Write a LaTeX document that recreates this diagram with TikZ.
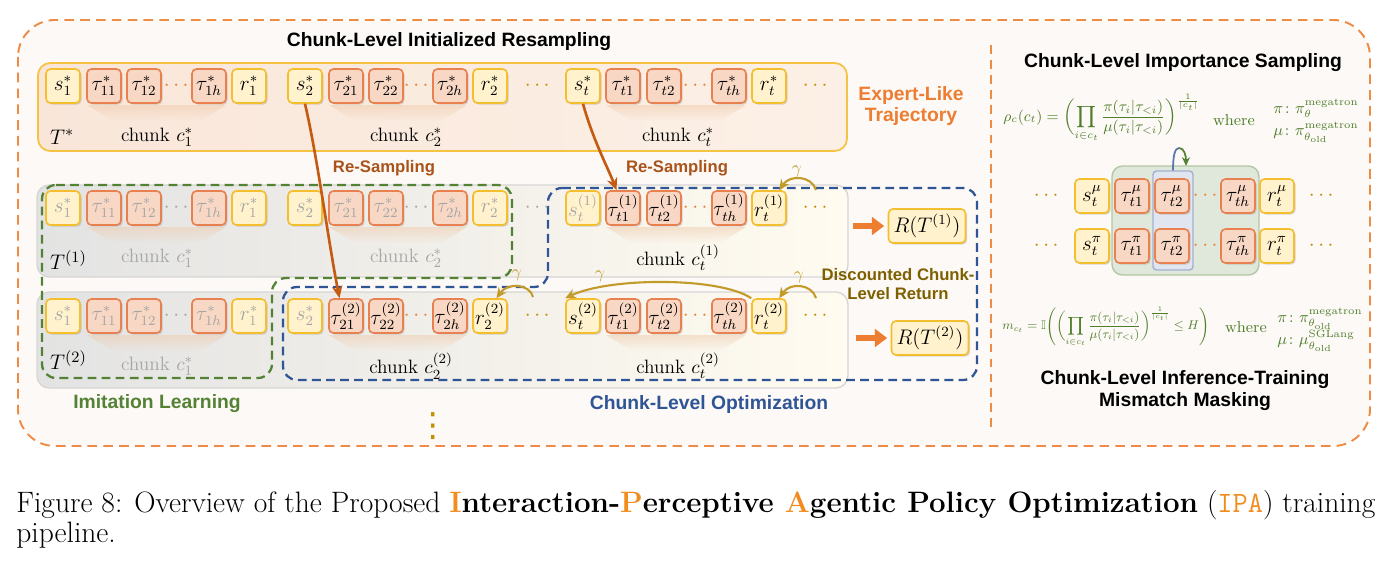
\documentclass[tikz,border=0pt]{standalone}
\usepackage{amsmath,amssymb}
\usepackage{fontspec}
\setsansfont{Liberation Sans}
\newfontfamily\symfont{DejaVu Sans}
\usepackage{xcolor}
\usepackage{tikz}
\usetikzlibrary{arrows.meta,shadows,fadings}
\definecolor{frameor}{HTML}{EE8B45}
\definecolor{framefill}{HTML}{FDF9F6}
\definecolor{sfill}{HTML}{FFF2CC}
\definecolor{sline}{HTML}{F4BE2E}
\definecolor{tfill}{HTML}{F8D8C4}
\definecolor{tline}{HTML}{E8804F}
\definecolor{dotor}{HTML}{ED7D31}
\definecolor{dotgold}{HTML}{BF9000}
\definecolor{dimtext}{HTML}{A6A6A6}
\definecolor{imgreen}{HTML}{548235}
\definecolor{optblue}{HTML}{2F5597}
\definecolor{resline}{HTML}{C55A11}
\definecolor{restext}{HTML}{A9531A}
\definecolor{gamline}{HTML}{C39B2B}
\definecolor{disctext}{HTML}{7F6000}
\definecolor{frmgreen}{HTML}{4F7F2B}
\definecolor{spotcol}{HTML}{EFC9A9}
\definecolor{bandline}{HTML}{F5C242}
\definecolor{bandleft}{HTML}{F9E6D9}
\definecolor{bandright}{HTML}{FCF0E6}
\definecolor{greyline}{HTML}{D6D6D6}
\definecolor{capor}{HTML}{F28C1E}
\tikzfading[name=spotfade, top color=transparent!50, bottom color=transparent!100]

\begin{document}
\begin{tikzpicture}[
  x=0.02cm, y=-0.02cm,
  cell/.style={rounded corners=2.5pt,minimum width=0.68cm,minimum height=0.68cm,inner sep=0pt,line width=0.9pt,font=\fontsize{12}{14}\selectfont,drop shadow={shadow xshift=0.9pt,shadow yshift=-0.9pt,opacity=0.3}},
  sbox/.style={cell,draw=sline,fill=sfill},
  tbox/.style={cell,draw=tline,fill=tfill},
  dim/.style={text=dimtext},
  odots/.style={text=dotor,font=\fontsize{12}{14}\selectfont},
  gdots/.style={text=dotgold,font=\fontsize{12}{14}\selectfont},
  ddots/.style={text=dimtext,font=\fontsize{12}{14}\selectfont},
  rbox/.style={sbox,minimum width=1.54cm},
  clabel/.style={font=\fontsize{11}{13}\selectfont},
  tlabel/.style={anchor=west,font=\fontsize{13}{15}\selectfont},
  head/.style={font=\sffamily\bfseries\fontsize{11}{12.5}\selectfont,align=center},
  spot/.style={fill=spotcol,path fading=spotfade},
  res/.style={-{Stealth[length=7pt,width=6pt]},draw=resline,line width=1.5pt},
  garrow/.style={-{Stealth[length=6pt,width=5.5pt]},draw=gamline,line width=1.2pt},
  rarrow/.style={-{Triangle[length=7pt,width=10pt]},draw=dotor,line width=3.2pt,shorten >=2pt},
  gam/.style={text=gamline,font=\fontsize{10}{12}\selectfont},
  gdash/.style={draw=imgreen,dash pattern=on 5pt off 3pt,line width=1.3pt,rounded corners=8pt},
  bdash/.style={draw=optblue,dash pattern=on 5pt off 3pt,line width=1.3pt,rounded corners=8pt},
  frm/.style={text=frmgreen,font=\fontsize{9}{10.5}\selectfont},
  defs/.style={frm,align=left,font=\fontsize{9}{13}\selectfont}
]
\useasboundingbox (0,0) rectangle (1393,565);

% outer frame
\draw[draw=frameor,fill=framefill,line width=1.1pt,dash pattern=on 5.5pt off 3.5pt,rounded corners=21pt] (18,20) rectangle (1370,446);
\draw[draw=frameor,line width=1.1pt,dash pattern=on 5pt off 3.5pt] (991,45) -- (991,428);

% bands
\shadedraw[left color=bandleft,right color=bandright,draw=bandline,line width=1pt,rounded corners=7pt] (38,63) rectangle (847,151);
\shadedraw[left color=black!11,middle color=black!5,right color=sfill!30,draw=greyline,line width=0.8pt,rounded corners=7pt] (37,185) rectangle (848,277);
\shadedraw[left color=black!11,middle color=black!5,right color=sfill!30,draw=greyline,line width=0.8pt,rounded corners=7pt] (37,292) rectangle (848,388);

% dashed regions
\draw[gdash] (42,185) -- (512,185) -- (512,278) -- (272,278) -- (272,378) -- (42,378) -- cycle;
\draw[bdash] (548,188) -- (977,188) -- (977,380) -- (283,380) -- (283,287) -- (548,287) -- cycle;

% chunk spotlights
\fill[spot] (87,105) -- (226,105) -- (200,121) -- (113,121) -- cycle;
\fill[spot] (329,105) -- (467,105) -- (441,121) -- (355,121) -- cycle;
\fill[spot] (606,105) -- (746,105) -- (720,121) -- (632,121) -- cycle;
\fill[spot] (87,227) -- (226,227) -- (200,243) -- (113,243) -- cycle;
\fill[spot] (329,227) -- (467,227) -- (441,243) -- (355,243) -- cycle;
\fill[spot] (606,227) -- (746,227) -- (720,243) -- (632,243) -- cycle;
\fill[spot] (87,335) -- (226,335) -- (200,351) -- (113,351) -- cycle;
\fill[spot] (329,335) -- (467,335) -- (441,351) -- (355,351) -- cycle;
\fill[spot] (606,335) -- (746,335) -- (720,351) -- (632,351) -- cycle;

% titles
\node[head] (title) at (449,42) {Chunk-Level Initialized Resampling};
\node[head,text=dotor] (expert) at (911,106) {Expert-Like\\Trajectory};
\node[head,text=imgreen] (imit) at (157,404) {Imitation Learning};
\node[head,text=optblue] (opt) at (709,404) {Chunk-Level Optimization};
\node[head,text=restext,font=\sffamily\bfseries\fontsize{9.5}{11}\selectfont] (rs1) at (384,168) {Re-Sampling};
\node[head,text=restext,font=\sffamily\bfseries\fontsize{9.5}{11}\selectfont] (rs2) at (677,168) {Re-Sampling};
\node[head,text=disctext,font=\sffamily\bfseries\fontsize{9.5}{10.3}\selectfont] (disc) at (898,284) {Discounted Chunk-\\Level Return};

% expert trajectory T*
\node[sbox] (s1e) at (63,86) {$s_1^*$};
\node[tbox] (t11e) at (104,86) {$\tau_{11}^*$};
\node[tbox] (t12e) at (144,86) {$\tau_{12}^*$};
\node[odots] (d1e) at (178,86) {$\cdots$};
\node[tbox] (t1he) at (209,86) {$\tau_{1h}^*$};
\node[sbox] (r1e) at (249,86) {$r_1^*$};
\node[sbox] (s2e) at (305,86) {$s_2^*$};
\node[tbox] (t21e) at (346,86) {$\tau_{21}^*$};
\node[tbox] (t22e) at (386,86) {$\tau_{22}^*$};
\node[odots] (d2e) at (418,86) {$\cdots$};
\node[tbox] (t2he) at (450,86) {$\tau_{2h}^*$};
\node[sbox] (r2e) at (490,86) {$r_2^*$};
\node[gdots] (dme) at (539,86) {$\cdots$};
\node[sbox] (ste) at (583,86) {$s_t^*$};
\node[tbox] (tt1e) at (623,86) {$\tau_{t1}^*$};
\node[tbox] (tt2e) at (664,86) {$\tau_{t2}^*$};
\node[odots] (dte) at (697,86) {$\cdots$};
\node[tbox] (tthe) at (729,86) {$\tau_{th}^*$};
\node[sbox] (rte) at (769,86) {$r_t^*$};
\node[gdots] (dee) at (817,86) {$\cdots$};
\node[tlabel] (te) at (44,137) {$T^*$};
\node[clabel] (c1e) at (157,137) {chunk $c_1^*$};
\node[clabel] (c2e) at (406,137) {chunk $c_2^*$};
\node[clabel] (cte) at (678,137) {chunk $c_t^*$};

% trajectory T(1)
\node[sbox,dim] (s1a) at (63,208) {$s_1^*$};
\node[tbox,dim] (t11a) at (104,208) {$\tau_{11}^*$};
\node[tbox,dim] (t12a) at (144,208) {$\tau_{12}^*$};
\node[ddots] (d1a) at (178,208) {$\cdots$};
\node[tbox,dim] (t1ha) at (209,208) {$\tau_{1h}^*$};
\node[sbox,dim] (r1a) at (249,208) {$r_1^*$};
\node[sbox,dim] (s2a) at (305,208) {$s_2^*$};
\node[tbox,dim] (t21a) at (346,208) {$\tau_{21}^*$};
\node[tbox,dim] (t22a) at (386,208) {$\tau_{22}^*$};
\node[ddots] (d2a) at (418,208) {$\cdots$};
\node[tbox,dim] (t2ha) at (450,208) {$\tau_{2h}^*$};
\node[sbox,dim] (r2a) at (490,208) {$r_2^*$};
\node[ddots] (dma) at (539,208) {$\cdots$};
\node[sbox,dim] (sta) at (583,208) {$s_t^{(1)}$};
\node[tbox] (tt1a) at (623,208) {$\tau_{t1}^{(1)}$};
\node[tbox] (tt2a) at (664,208) {$\tau_{t2}^{(1)}$};
\node[odots] (dta) at (697,208) {$\cdots$};
\node[tbox] (ttha) at (729,208) {$\tau_{th}^{(1)}$};
\node[sbox] (rta) at (769,208) {$r_t^{(1)}$};
\node[gdots] (dea) at (817,208) {$\cdots$};
\node[tlabel] (ta) at (44,260) {$T^{(1)}$};
\node[clabel,dim] (c1a) at (157,258) {chunk $c_1^*$};
\node[clabel,dim] (c2a) at (406,258) {chunk $c_2^*$};
\node[clabel] (cta) at (678,258) {chunk $c_t^{(1)}$};

% trajectory T(2)
\node[sbox,dim] (s1b) at (63,316) {$s_1^*$};
\node[tbox,dim] (t11b) at (104,316) {$\tau_{11}^*$};
\node[tbox,dim] (t12b) at (144,316) {$\tau_{12}^*$};
\node[ddots] (d1b) at (178,316) {$\cdots$};
\node[tbox,dim] (t1hb) at (209,316) {$\tau_{1h}^*$};
\node[sbox,dim] (r1b) at (249,316) {$r_1^*$};
\node[sbox,dim] (s2b) at (305,316) {$s_2^*$};
\node[tbox] (t21b) at (346,316) {$\tau_{21}^{(2)}$};
\node[tbox] (t22b) at (386,316) {$\tau_{22}^{(2)}$};
\node[odots] (d2b) at (418,316) {$\cdots$};
\node[tbox] (t2hb) at (450,316) {$\tau_{2h}^{(2)}$};
\node[sbox] (r2b) at (490,316) {$r_2^{(2)}$};
\node[gdots] (dmb) at (539,316) {$\cdots$};
\node[sbox] (stb) at (583,316) {$s_t^{(2)}$};
\node[tbox] (tt1b) at (623,316) {$\tau_{t1}^{(2)}$};
\node[tbox] (tt2b) at (664,316) {$\tau_{t2}^{(2)}$};
\node[odots] (dtb) at (697,316) {$\cdots$};
\node[tbox] (tthb) at (729,316) {$\tau_{th}^{(2)}$};
\node[sbox] (rtb) at (769,316) {$r_t^{(2)}$};
\node[gdots] (deb) at (817,316) {$\cdots$};
\node[tlabel] (tb) at (44,360) {$T^{(2)}$};
\node[clabel,dim] (c1b) at (157,366) {chunk $c_1^*$};
\node[clabel] (c2b) at (411,366) {chunk $c_2^{(2)}$};
\node[clabel] (ctb) at (678,366) {chunk $c_t^{(2)}$};
\node[gdots,font=\symfont\fontsize{19}{19}\selectfont] (vd) at (433,426) {⋮};

% returns
\node[rbox] (ra) at (927,226) {$R(T^{(1)})$};
\node[rbox] (rb) at (930,338) {$R(T^{(2)})$};
\coordinate (ain) at (853,226);
\coordinate (bin) at (856,338);
\draw[rarrow] (ain) -- (ra);
\draw[rarrow] (bin) -- (rb);

% re-sampling
\draw[res] (s2e.south) .. controls (318,160) and (328,240) .. (t21b.110);
\draw[res] (ste.south) .. controls (593,140) and (608,168) .. (tt1a.110);

% discount arrows
\coordinate (ga) at (816,190);
\coordinate (gb) at (816,298);
\coordinate (gc) at (533,297);
\draw[garrow] (ga) .. controls (812,176) and (790,174) .. (rta.60);
\draw[garrow] (gb) .. controls (812,284) and (790,282) .. (rtb.60);
\draw[garrow] (gc) .. controls (530,284) and (508,282) .. (r2b.70);
\draw[garrow] (rtb.north west) .. controls (720,277) and (610,277) .. (stb.north west);
\node[gam] at (797,171) {$\gamma$};
\node[gam] at (799,277) {$\gamma$};
\node[gam] at (517,275) {$\gamma$};
\node[gam] at (600,276) {$\gamma$};

% importance sampling panel
\node[head] (istitle) at (1183,63) {Chunk-Level Importance Sampling};
\node[frm,anchor=west,inner sep=0pt] (rho) at (1003,118) {\resizebox{3.94cm}{!}{$\displaystyle \rho_c(c_t)=\biggl(\prod_{i\in c_t}\frac{\pi(\tau_i|\tau_{<i})}{\mu(\tau_i|\tau_{<i})}\biggr)^{\frac{1}{|c_t|}}$}};
\node[frm] (wh1) at (1234,120) {where};
\node[defs] (def1) at (1316,121) {$\pi\colon \pi_{\theta}^{\text{megatron}}$\\$\mu\colon \pi_{\theta_{\text{old}}}^{\text{megatron}}$};

\draw[fill=imgreen!18,draw=imgreen!45,line width=0.8pt,rounded corners=6pt] (1112,166) rectangle (1259,275);
\node[draw=optblue!45,fill=optblue!15,line width=0.8pt,rounded corners=2pt,minimum width=0.8cm,minimum height=1.98cm,inner sep=0pt] (tcol) at (1173,220.5) {};
\coordinate (pk) at (1179,148);
\coordinate (pkend) at (1186,166);
\draw[draw=optblue!80,line width=1pt] (tcol.north) .. controls (1173,155) and (1175,148) .. (pk);
\draw[draw=imgreen,line width=1pt,-{Stealth[length=5pt,width=4.5pt]}] (pk) .. controls (1184,148) and (1186,155) .. (pkend);

\node[gdots] (dmu1) at (1048,196) {$\cdots$};
\node[sbox] (smu) at (1092,196) {$s_t^{\mu}$};
\node[tbox] (tmu1) at (1132,196) {$\tau_{t1}^{\mu}$};
\node[tbox] (tmu2) at (1172,196) {$\tau_{t2}^{\mu}$};
\node[odots] (dmu2) at (1207,196) {$\cdots$};
\node[tbox] (tmuh) at (1238,196) {$\tau_{th}^{\mu}$};
\node[sbox] (rmu) at (1277,196) {$r_t^{\mu}$};
\node[gdots] (dmu3) at (1323,196) {$\cdots$};
\node[gdots] (dpi1) at (1048,246) {$\cdots$};
\node[sbox] (spi) at (1092,246) {$s_t^{\pi}$};
\node[tbox] (tpi1) at (1132,246) {$\tau_{t1}^{\pi}$};
\node[tbox] (tpi2) at (1172,246) {$\tau_{t2}^{\pi}$};
\node[odots] (dpi2) at (1207,246) {$\cdots$};
\node[tbox] (tpih) at (1238,246) {$\tau_{th}^{\pi}$};
\node[sbox] (rpi) at (1277,246) {$r_t^{\pi}$};
\node[gdots] (dpi3) at (1323,246) {$\cdots$};

\node[frm,anchor=west,inner sep=0pt] (mask) at (1002,327) {\resizebox{4.14cm}{!}{$\displaystyle m_{c_t}=\mathbb{I}\Biggl(\biggl(\prod_{i\in c_t}\frac{\pi(\tau_i|\tau_{<i})}{\mu(\tau_i|\tau_{<i})}\biggr)^{\frac{1}{|c_t|}}\le H\Biggr)$}};
\node[frm] (wh2) at (1246,327) {where};
\node[defs] (def2) at (1320,330) {$\pi\colon \pi_{\theta_{\text{old}}}^{\text{megatron}}$\\$\mu\colon \mu_{\theta_{\text{old}}}^{\text{SGLang}}$};
\node[head] (mmtitle) at (1185,391) {Chunk-Level Inference-Training\\Mismatch Masking};

% caption
\node[anchor=base west,font=\fontsize{16.8}{19}\selectfont,inner sep=0pt] (cap1) at (16,512) {Figure 8: Overview of the Proposed \textbf{\textcolor{capor}{I}nteraction-\textcolor{capor}{P}erceptive \textcolor{capor}{A}gentic Policy Optimization} (\textcolor{capor}{\texttt{IPA}}) training};
\node[anchor=base west,font=\fontsize{16.8}{19}\selectfont,inner sep=0pt] (cap2) at (16,542) {pipeline.};
\end{tikzpicture}
\end{document}
